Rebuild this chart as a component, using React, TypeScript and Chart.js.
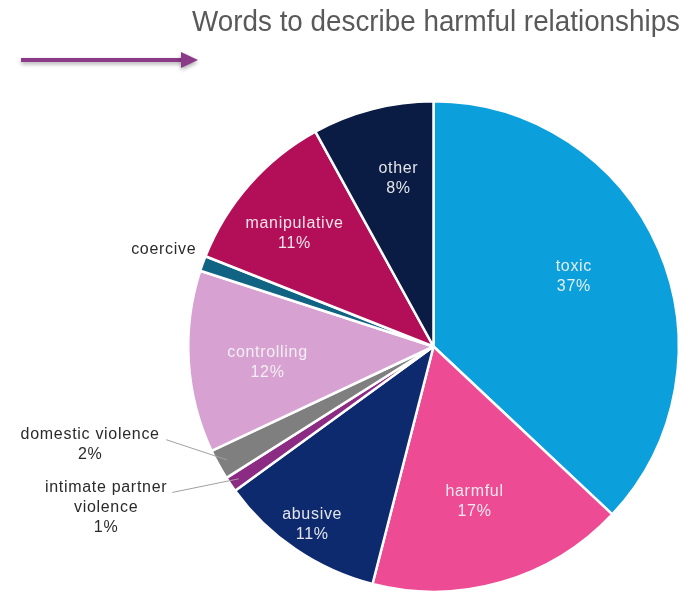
import React, { useEffect, useRef } from "react";
import { Chart, registerables } from "chart.js";

Chart.register(...registerables);

const categories = [
  "toxic",
  "harmful",
  "abusive",
  "intimate partner violence",
  "domestic violence",
  "controlling",
  "coercive",
  "manipulative",
  "other",
];
const values = [37, 17, 11, 1, 2, 12, 1, 11, 8];
const colors = [
  "#0B9FDB",
  "#EE4B95",
  "#0D2A6E",
  "#8C2B84",
  "#7F7F80",
  "#D7A1D2",
  "#106383",
  "#B30F58",
  "#0A1C44",
];
const titleText = "Words to describe harmful relationships";

// label layout (not data): inside labels at [radius factor, angle offset in degrees]
const insideLayout: Record<string, [number, number]> = {
  toxic: [0.64, -3.2],
  harmful: [0.655, 1.4],
  abusive: [0.88, 0],
  controlling: [0.68, -1.9],
  manipulative: [0.73, -2.3],
  other: [0.7, 2.6],
};
// outside labels: text block position relative to center, in units of radius
const outsideLabels: Record<string, { lines: string[]; dx: number; dy: number; leader: boolean; lx: number; ly: number }> = {
  coercive: { lines: ["coercive"], dx: -1.1, dy: -0.395, leader: false, lx: 0, ly: 0 },
  "domestic violence": { lines: ["domestic violence", "2%"], dx: -1.4, dy: 0.36, leader: true, lx: -1.09, ly: 0.38 },
  "intimate partner violence": {
    lines: ["intimate partner", "violence", "1%"],
    dx: -1.335,
    dy: 0.575,
    leader: true,
    lx: -1.065,
    ly: 0.595,
  },
};

const labelPlugin = {
  id: "labelPlugin",
  afterDraw(chart: any) {
    const ctx = chart.ctx as CanvasRenderingContext2D;
    const meta = chart.getDatasetMeta(0);
    const total = values.reduce((a, b) => a + b, 0);
    ctx.save();
    // title (slightly condensed)
    ctx.save();
    ctx.fillStyle = "#595959";
    ctx.font = "30px 'Liberation Sans', Arial, sans-serif";
    ctx.textAlign = "right";
    ctx.textBaseline = "alphabetic";
    ctx.translate(680, 31);
    ctx.scale(0.927, 1);
    ctx.fillText(titleText, 0, 0);
    ctx.restore();

    // arrow
    ctx.save();
    ctx.shadowColor = "rgba(0,0,0,0.35)";
    ctx.shadowBlur = 4;
    ctx.shadowOffsetY = 2;
    ctx.fillStyle = "#8B3A88";
    ctx.fillRect(21, 58, 162, 4);
    ctx.beginPath();
    ctx.moveTo(181, 52);
    ctx.lineTo(198, 60);
    ctx.lineTo(181, 68);
    ctx.closePath();
    ctx.fill();
    ctx.restore();

    ctx.font = "16px 'Liberation Sans', Arial, sans-serif";
    (ctx as any).letterSpacing = "0.7px";
    ctx.textAlign = "center";
    ctx.textBaseline = "middle";
    const lh = 20;
    meta.data.forEach((arc: any, i: number) => {
      const name = categories[i];
      const pct = Math.round((values[i] / total) * 100) + "%";
      const { x, y, startAngle, endAngle, outerRadius } = arc.getProps(
        ["x", "y", "startAngle", "endAngle", "outerRadius"],
        true
      );
      const mid = (startAngle + endAngle) / 2;
      if (insideLayout[name] !== undefined) {
        const [f, off] = insideLayout[name];
        const a = mid + (off * Math.PI) / 180;
        const px = x + Math.cos(a) * outerRadius * f;
        const py = y + Math.sin(a) * outerRadius * f;
        ctx.fillStyle = "rgba(245,245,245,0.92)";
        ctx.fillText(name, px, py - lh / 2);
        ctx.fillText(pct, px, py + lh / 2);
      } else if (outsideLabels[name]) {
        const o = outsideLabels[name];
        const tx = x + o.dx * outerRadius;
        const ty = y + o.dy * outerRadius;
        if (o.leader) {
          ctx.strokeStyle = "#A0A0A0";
          ctx.lineWidth = 1;
          ctx.beginPath();
          ctx.moveTo(x + o.lx * outerRadius, y + o.ly * outerRadius);
          ctx.lineTo(x + Math.cos(mid) * outerRadius * 0.96, y + Math.sin(mid) * outerRadius * 0.96);
          ctx.stroke();
        }
        ctx.fillStyle = "#2A2A2A";
        o.lines.forEach((ln, k) => {
          ctx.fillText(ln, tx, ty + k * lh);
        });
      }
    });
    ctx.restore();
  },
};

export default function App() {
  const ref = useRef<HTMLCanvasElement | null>(null);
  useEffect(() => {
    if (!ref.current) return;
    const chart = new Chart(ref.current, {
      type: "pie",
      data: {
        labels: categories,
        datasets: [
          {
            data: values,
            backgroundColor: colors,
            borderColor: "#ffffff",
            borderWidth: 2.5,
          },
        ],
      },
      options: {
        responsive: false,
        animation: false,
        layout: { padding: { left: 187, right: 11, top: 100, bottom: 1 } },
        plugins: { legend: { display: false }, tooltip: { enabled: false }, title: { display: false } },
      },
      plugins: [labelPlugin],
    });
    return () => chart.destroy();
  }, []);
  return (
    <div style={{ position: "absolute", left: 0, top: 0, width: 691, height: 594, background: "#fff" }}>
      <canvas ref={ref} width={691} height={594} />
    </div>
  );
}
